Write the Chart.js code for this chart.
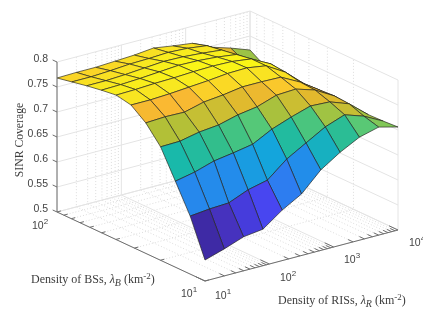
<!DOCTYPE html>
<html>
<head>
<meta charset="utf-8">
<style>
  html, body { margin: 0; padding: 0; background: #fff; overflow: hidden; }
  canvas { display: block; }
</style>
<script src="https://cdn.jsdelivr.net/npm/chart.js@4"></script>
</head>
<body>
<canvas id="surface" width="423" height="317"></canvas>
<script>
// density of RISs (km-2), one entry per grid column
const risDensity = [10, 19.95, 39.81, 79.43, 158.5, 316.2, 631, 1259, 2512, 5012, 10000];
// density of BSs (km-2), one entry per grid row
const bsDensity = [10, 12.59, 15.85, 19.95, 25.12, 31.62, 39.81, 50.12, 63.1, 79.43, 100];

// SINR coverage, one small list per BS density
const coverageBs0 = [.542, .554, .568, .573, .601, .623, .661, .686, .706, .716, .706];
const coverageBs1 = [.616, .620, .622, .638, .647, .679, .701, .723, .737, .724, .704];
const coverageBs2 = [.672, .680, .692, .698, .705, .725, .739, .751, .749, .735, .703];
const coverageBs3 = [.727, .728, .736, .740, .750, .756, .769, .771, .759, .737, .703];
const coverageBs4 = [.761, .763, .762, .772, .776, .782, .782, .781, .761, .735, .703];
const coverageBs5 = [.783, .783, .785, .788, .791, .795, .796, .790, .767, .733, .703];
const coverageBs6 = [.789, .790, .792, .793, .795, .796, .795, .790, .770, .735, .703];
const coverageBs7 = [.785, .786, .788, .791, .794, .793, .790, .785, .760, .735, .703];
const coverageBs8 = [.780, .780, .782, .785, .788, .787, .784, .780, .755, .735, .701];
const coverageBs9 = [.774, .774, .776, .779, .780, .782, .780, .775, .752, .722, .704];
const coverageBs10 = [.768, .769, .769, .771, .773, .777, .771, .766, .748, .736, .722];
const coverage = [coverageBs0, coverageBs1, coverageBs2, coverageBs3, coverageBs4, coverageBs5,
  coverageBs6, coverageBs7, coverageBs8, coverageBs9, coverageBs10];

const coverageTicks = [.5, .55, .6, .65, .7, .75, .8];
const coverageTickLabels = ['0.5', '0.55', '0.6', '0.65', '0.7', '0.75', '0.8'];
const risTicks = [10, 20, 30, 40, 50, 60, 70, 80, 90, 100, 200, 300, 400, 500, 600, 700, 800, 900,
  1000, 2000, 3000, 4000, 5000, 6000, 7000, 8000, 9000, 10000];
const risMajor = [10, 100, 1000, 10000];
const bsTicks = [10, 20, 30, 40, 50, 60, 70, 80, 90, 100];
const bsMajor = [10, 100];

// colour of a face by its coverage
const colorLevels = [.542, .554, .568, .573, .601, .622, .647, .672, .692, .705, .715, .727, .740, .752, .763, .775, .785, .796];
const colorStops = [[62, 42, 165], [70, 50, 190], [70, 60, 220], [72, 70, 240], [45, 125, 240], [35, 140, 235],
  [20, 165, 220], [25, 185, 170], [50, 190, 140], [85, 200, 120], [125, 200, 90], [178, 192, 55], [205, 190, 50],
  [228, 185, 45], [250, 185, 50], [250, 215, 38], [248, 232, 32], [250, 246, 22]];

function faceColor(z) {
  let k = 0;
  while (k < colorLevels.length - 2 && z > colorLevels[k + 1]) k++;
  let t = (z - colorLevels[k]) / (colorLevels[k + 1] - colorLevels[k]);
  t = Math.max(0, Math.min(1, t));
  const c = colorStops[k].map((v, n) => Math.round(v + (colorStops[k + 1][n] - v) * t));
  return 'rgb(' + c.join(',') + ')';
}

// the 3D box seen from the front corner, flattened on the chart's x/y scales
function project(ris, bs, z) {
  const u = (Math.log10(ris) - 1) / 3;
  const v = Math.log10(bs) - 1;
  return {
    x: 205 + 193 * u - 148 * v,
    y: 281 - 51 * u - 69 * v - (z - .5) * 500
  };
}

function lineSet(points, color, width, dash) {
  return {
    data: points, showLine: true, fill: false, tension: 0, pointRadius: 0,
    borderColor: color, borderWidth: width, borderDash: dash || [], clip: false
  };
}

const axisColor = '#6e6e6e';
const gridColor = '#e4e4e4';
const minorColor = '#dcdcdc';
const datasets = [];

// axis lines and tick marks
datasets.push(lineSet([project(10, 100, .5), project(10, 100, .8)], axisColor, 1));
datasets.push(lineSet([project(10, 100, .5), project(10, 10, .5)], axisColor, 1));
datasets.push(lineSet([project(10, 10, .5), project(10000, 10, .5)], axisColor, 1));
coverageTicks.forEach(z => {
  datasets.push(lineSet([project(10, 100, z), project(10, 107, z)], axisColor, 1));
});
risTicks.forEach(r => {
  const len = risMajor.includes(r) ? 11.5 : 10.8;
  datasets.push(lineSet([project(r, 10, .5), project(r, len, .5)], axisColor, 1));
});
bsTicks.forEach(b => {
  datasets.push(lineSet([project(10, b, .5), project(11.5, b, .5)], axisColor, 1));
});

// surface faces, nearest first because chart.js paints the first dataset last
for (let j = 0; j < bsDensity.length - 1; j++) {
  for (let i = 0; i < risDensity.length - 1; i++) {
    const corners = [
      project(risDensity[i], bsDensity[j], coverage[j][i]),
      project(risDensity[i + 1], bsDensity[j], coverage[j][i + 1]),
      project(risDensity[i + 1], bsDensity[j + 1], coverage[j + 1][i + 1]),
      project(risDensity[i], bsDensity[j + 1], coverage[j + 1][i]),
      project(risDensity[i], bsDensity[j], coverage[j][i])
    ];
    const face = lineSet(corners, 'rgba(35,35,30,0.78)', .85);
    face.fill = 'shape';
    face.backgroundColor = faceColor(coverage[j][i]);
    datasets.push(face);
  }
}

// walls and floor grid
coverageTicks.forEach(z => {
  datasets.push(lineSet([project(10, 100, z), project(10000, 100, z), project(10000, 10, z)], gridColor, 1));
});
risTicks.forEach(r => {
  const major = risMajor.includes(r);
  const pts = [project(r, 10, .5), project(r, 100, .5), project(r, 100, .8)];
  datasets.push(lineSet(pts, major ? gridColor : minorColor, 1, major ? [] : [1, 2]));
});
bsTicks.forEach(b => {
  const major = bsMajor.includes(b);
  const pts = [project(10, b, .5), project(10000, b, .5), project(10000, b, .8)];
  datasets.push(lineSet(pts, major ? gridColor : minorColor, 1, major ? [] : [1, 2]));
});

// text helper: runs are [text, font, dy]
function drawRuns(ctx, x, y, runs, color) {
  ctx.fillStyle = color;
  ctx.textAlign = 'left';
  ctx.textBaseline = 'alphabetic';
  runs.forEach(run => {
    ctx.font = run[1];
    ctx.fillText(run[0], x, y + run[2]);
    x += ctx.measureText(run[0]).width;
  });
}

function powerLabel(ctx, x, y, exp) {
  drawRuns(ctx, x, y, [['10', '10.5px "Liberation Sans"', 0], [exp, '8px "Liberation Sans"', -5]], '#444');
}

const labels = {
  id: 'labels',
  afterDraw(chart) {
    const ctx = chart.ctx;
    const tickFont = '10.5px "Liberation Sans"';
    const serif = '12px "Liberation Serif"';
    const sub = 'italic 10px "Liberation Serif"';
    ctx.save();
    coverageTicks.forEach((z, n) => {
      ctx.font = tickFont;
      ctx.fillStyle = '#444';
      ctx.textAlign = 'right';
      ctx.textBaseline = 'middle';
      ctx.fillText(coverageTickLabels[n], 48, project(10, 100, z).y - 2.5);
    });
    powerLabel(ctx, 32, 229, '2');
    powerLabel(ctx, 181, 297, '1');
    powerLabel(ctx, 215, 299, '1');
    powerLabel(ctx, 280, 281, '2');
    powerLabel(ctx, 344, 263, '3');
    powerLabel(ctx, 409, 246, '4');

    drawRuns(ctx, 31, 283, [['Density of BSs, ', serif, 0], ['\u03bb', 'italic 12px "Liberation Serif"', 0],
      ['B', sub, 3], [' (km', serif, 0], ['-2', '9px "Liberation Serif"', -4], [')', serif, 0]], '#3c3c3c');
    drawRuns(ctx, 278, 304, [['Density of RISs, ', serif, 0], ['\u03bb', 'italic 12px "Liberation Serif"', 0],
      ['R', sub, 3], [' (km', serif, 0], ['-2', '9px "Liberation Serif"', -4], [')', serif, 0]], '#3c3c3c');

    ctx.translate(23, 140);
    ctx.rotate(-Math.PI / 2);
    ctx.font = '11.7px "Liberation Serif"';
    ctx.fillStyle = '#3c3c3c';
    ctx.textAlign = 'center';
    ctx.textBaseline = 'alphabetic';
    ctx.fillText('SINR Coverage', 0, 0);
    ctx.restore();
  }
};

new Chart(document.getElementById('surface'), {
  type: 'scatter',
  data: { datasets: datasets },
  options: {
    responsive: false,
    animation: false,
    layout: { padding: 0 },
    scales: {
      x: { type: 'linear', min: 0, max: 423, display: false },
      y: { type: 'linear', min: 0, max: 317, reverse: true, display: false }
    },
    plugins: {
      legend: { display: false },
      tooltip: { enabled: false }
    }
  },
  plugins: [labels]
});
</script>
</body>
</html>
